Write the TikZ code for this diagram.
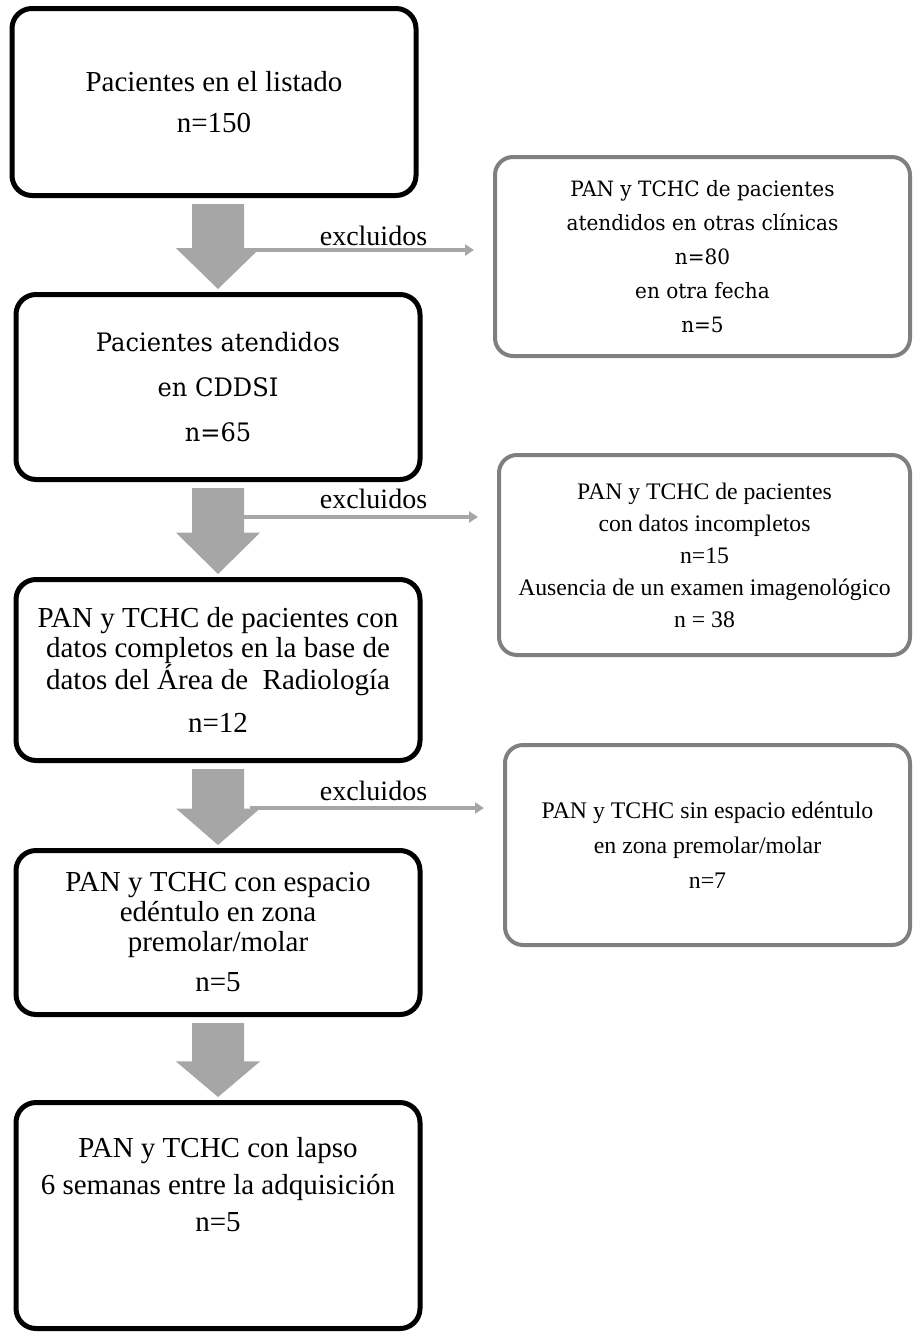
\documentclass[tikz,border=0pt]{standalone}
\usepackage{fontspec}
\setmainfont{Liberation Serif}
\newfontfamily\cambriafont{DejaVu Serif}[FakeStretch=0.95]
\usetikzlibrary{arrows.meta,calc,positioning}
\definecolor{arrowgray}{HTML}{A6A6A6}
\definecolor{boxgray}{HTML}{7F7F7F}
\tikzset{
    mybox/.style={draw=black,line width=5pt,rounded corners=20pt,align=center,minimum width=404pt,inner sep=0pt},
    myexcl/.style={draw=boxgray,line width=4pt,rounded corners=18pt,align=center,inner sep=0pt},
    myarrow/.style={fill=arrowgray,draw=none},
    myline/.style={draw=arrowgray,line width=4pt,-{Triangle[length=9pt,width=11pt]},shorten >=19pt},
    mylabel/.style={anchor=base,inner sep=0pt,font=\fontsize{28}{30}\selectfont},
    every node/.style={font=\fontsize{29}{30}\selectfont}
}

\begin{document}
\begin{tikzpicture}[x=1pt,y=-1pt]
  \useasboundingbox (0,0) rectangle (914,1333);

  % main column
  \node[mybox,minimum height=187pt] (b1) at (214,102)
    {Pacientes en el listado\\[11pt] n=150};
  \node[mybox,minimum height=185pt,font=\cambriafont\fontsize{25.4}{45}\selectfont] (b2) at (218,387)
    {Pacientes atendidos\\ en CDDSI\\ n=65};
  \node[mybox,minimum height=181pt] (b3) at (218,670)
    {PAN y TCHC de pacientes con\\ datos completos en la base de\\ datos del Área de~ Radiología\\[13pt] n=12};
  \node[mybox,minimum height=164pt] (b4) at (218,932.5)
    {PAN y TCHC con espacio\\ edéntulo en zona\\ premolar/molar\\[10pt] n=5};
  \node[mybox,minimum height=226pt,text depth=63pt,font=\fontsize{29}{37}\selectfont] (b5) at (218,1215.5)
    {PAN y TCHC con lapso\\ 6 semanas entre la adquisición\\ n=5};

  % excluded
  \node[myexcl,minimum width=415pt,minimum height=199pt,font=\cambriafont\fontsize{21.1}{34}\selectfont] (r1) at (702.5,256.5)
    {PAN y TCHC de pacientes\\ atendidos en otras clínicas\\ n=80\\ en otra fecha\\ n=5};
  \node[myexcl,minimum width=411pt,minimum height=200pt,font=\fontsize{23.7}{32}\selectfont] (r2) at (704.5,555)
    {PAN y TCHC de pacientes\\ con datos incompletos\\ n=15\\ Ausencia de un examen imagenológico\\ n = 38};
  \node[myexcl,minimum width=405pt,minimum height=200pt,font=\fontsize{23.8}{35}\selectfont] (r3) at (707.5,845)
    {PAN y TCHC sin espacio edéntulo\\ en zona premolar/molar\\ n=7};

  % block arrows
  \foreach \u/\l in {b1/b2,b2/b3,b3/b4,b4/b5}{
    \coordinate (top) at ($(\u.south -| \l.north)+(0,6)$);
    \coordinate (tip) at ($(\l.north)+(0,-3)$);
    \coordinate (neck) at ($(top)!0.52!(tip)$);
    \fill[myarrow] ($(top)+(-26,0)$) -- ($(top)+(26,0)$) -- ($(neck)+(26,0)$)
      -- ($(neck)+(42,0)$) -- (tip) -- ($(neck)+(-42,0)$) -- ($(neck)+(-26,0)$) -- cycle;
  }

  \coordinate (x1) at (242,250);
  \coordinate (x2) at (243,517);
  \coordinate (x3) at (250,808);

  \draw[myline] (x1) -- (x1 -| r1.west);
  \draw[myline] (x2) -- (x2 -| r2.west);
  \draw[myline] (x3) -- (x3 -| r3.west);

  \node[mylabel] (e1) at (373.5,245) {excluidos};
  \node[mylabel] (e2) at (373.5,508) {excluidos};
  \node[mylabel] (e3) at (373.5,800) {excluidos};
\end{tikzpicture}
\end{document}
